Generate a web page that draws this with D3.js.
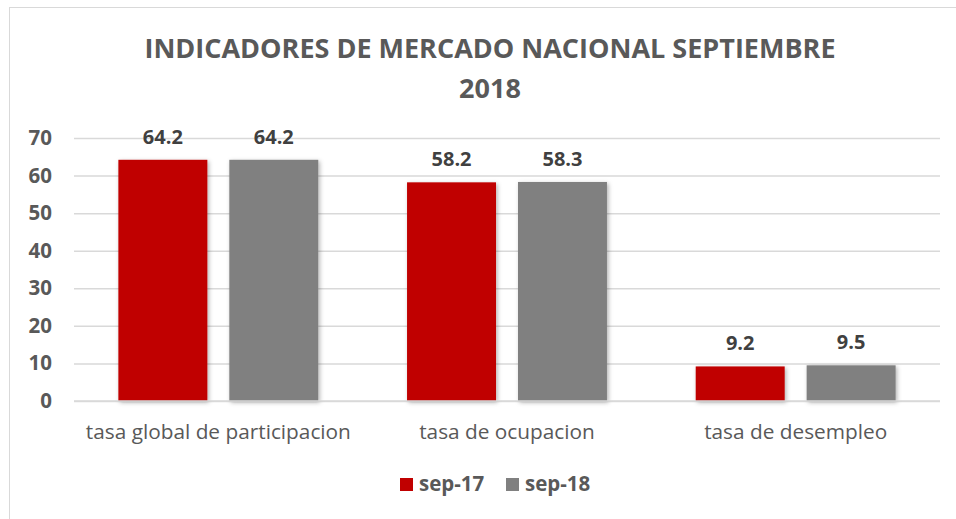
<!DOCTYPE html>
<html>
<head>
<meta charset="utf-8">
<script src="https://cdn.jsdelivr.net/npm/d3@7"></script>
<style>
  html, body { margin: 0; padding: 0; background: #fff; }
  svg { display: block; }
</style>
</head>
<body>
<svg id="chart" width="956" height="519"></svg>
<script>
const titleLines = ["INDICADORES DE MERCADO NACIONAL SEPTIEMBRE", "2018"];
const categories = ["tasa global de participacion", "tasa de ocupacion", "tasa de desempleo"];
const seriesNames = ["sep-17", "sep-18"];
const sep17 = [64.2, 58.2, 9.2];
const sep18 = [64.2, 58.3, 9.5];
const labels17 = ["64.2", "58.2", "9.2"];
const labels18 = ["64.2", "58.3", "9.5"];
const yTicks = [0, 10, 20, 30, 40, 50, 60, 70];
const colors = ["#C00000", "#808080"];

const svg = d3.select("#chart");
const W = 956, H = 519;
const margin = { left: 74, right: 16, top: 138, bottom: 118 };
const plotW = W - margin.left - margin.right;
const plotH = H - margin.top - margin.bottom;

// chart frame
svg.append("rect").attr("x", 9.5).attr("y", 7.5).attr("width", W + 20).attr("height", H + 20)
  .attr("fill", "#fff").attr("stroke", "#d9d9d9").attr("stroke-width", 1);

const defs = svg.append("defs");
const f = defs.append("filter").attr("id", "shadow").attr("x", "-10%").attr("y", "-10%").attr("width", "130%").attr("height", "130%");
f.append("feDropShadow").attr("dx", 1.5).attr("dy", 1.5).attr("stdDeviation", 2).attr("flood-color", "#000").attr("flood-opacity", 0.3);

// title
const title = svg.append("text").attr("text-anchor", "middle")
  .attr("font-family", "Open Sans, sans-serif").attr("font-weight", "bold")
  .attr("font-size", 27).attr("fill", "#595959");
title.selectAll("tspan").data(titleLines).join("tspan")
  .attr("x", 490).attr("y", (d, i) => 58 + i * 40).text(d => d);

const g = svg.append("g").attr("transform", `translate(${margin.left},${margin.top})`);

const y = d3.scaleLinear().domain([0, 70]).range([plotH, 0]);
const x0 = d3.scaleBand().domain(categories).range([0, plotW]).padding(0);
const x1 = d3.scaleBand().domain(seriesNames).range([0, x0.bandwidth()]).paddingInner(0.198).paddingOuter(0.4);

// gridlines
const yAxis = d3.axisLeft(y).tickValues(yTicks).tickSize(-plotW).tickPadding(22);
const ya = g.append("g").call(yAxis);
ya.select(".domain").remove();
ya.selectAll(".tick line").attr("stroke", "#d9d9d9").attr("stroke-width", 1.5);
ya.selectAll(".tick text").attr("font-family", "Open Sans, sans-serif").attr("font-weight", "bold")
  .attr("font-size", 20.5).attr("fill", "#595959");

const data = categories.map((c, i) => ({
  cat: c,
  vals: [
    { s: seriesNames[0], v: sep17[i], lab: labels17[i] },
    { s: seriesNames[1], v: sep18[i], lab: labels18[i] }
  ]
}));

const groups = g.selectAll(".grp").data(data).join("g")
  .attr("transform", d => `translate(${x0(d.cat)},0)`);

groups.selectAll("rect").data(d => d.vals).join("rect")
  .attr("x", d => x1(d.s)).attr("width", x1.bandwidth())
  .attr("y", d => y(d.v)).attr("height", d => y(0) - y(d.v))
  .attr("fill", (d, i) => colors[i]).attr("filter", "url(#shadow)");

groups.selectAll("text.val").data(d => d.vals).join("text").attr("class", "val")
  .attr("x", d => x1(d.s) + x1.bandwidth() / 2).attr("y", d => y(d.v) - 16)
  .attr("text-anchor", "middle").attr("font-family", "Open Sans, sans-serif")
  .attr("font-weight", "bold").attr("font-size", 20).attr("fill", "#404040")
  .text(d => d.lab);

// x axis line
g.append("line").attr("x1", 0).attr("x2", plotW).attr("y1", y(0)).attr("y2", y(0))
  .attr("stroke", "#d9d9d9").attr("stroke-width", 1.5);

// category labels
const xAxis = d3.axisBottom(x0).tickSize(0).tickPadding(23);
const xa = g.append("g").attr("transform", `translate(0,${plotH})`).call(xAxis);
xa.select(".domain").remove();
xa.selectAll(".tick text").attr("font-family", "Open Sans, sans-serif")
  .attr("font-size", 20.8).attr("fill", "#595959");

// legend
const legendX = [400, 506];
const leg = svg.append("g");
seriesNames.forEach((s, i) => {
  leg.append("rect").attr("x", legendX[i]).attr("y", 478).attr("width", 13).attr("height", 13).attr("fill", colors[i]);
  leg.append("text").attr("x", legendX[i] + 19).attr("y", 491)
    .attr("font-family", "Open Sans, sans-serif").attr("font-weight", "bold")
    .attr("font-size", 20.5).attr("fill", "#595959").text(s);
});
</script>
</body>
</html>
